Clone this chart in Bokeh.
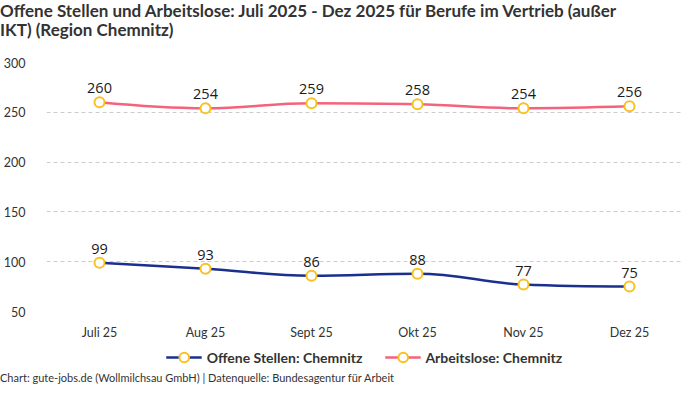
from bokeh.plotting import figure
from bokeh.models import (Legend, LegendItem, FixedTicker, ColumnDataSource, Div)
from bokeh.layouts import column
from bokeh.embed import file_html
from bokeh.resources import INLINE
from bokeh.core.properties import value

months = ["Juli 25", "Aug 25", "Sept 25", "Okt 25", "Nov 25", "Dez 25"]
offene = [99, 93, 86, 88, 77, 75]
arbeitslose = [260, 254, 259, 258, 254, 256]
y_ticks = [50, 100, 150, 200, 250, 300]

title_lines = ["Offene Stellen und Arbeitslose: Juli 2025 - Dez 2025 für Berufe im Vertrieb (außer",
               "IKT) (Region Chemnitz)"]
footer = "Chart: gute-jobs.de (Wollmilchsau GmbH) | Datenquelle: Bundesagentur für Arbeit"
names = ["Offene Stellen: Chemnitz", "Arbeitslose: Chemnitz"]

BLUE = "#1b2f8e"
PINK = "#f4637c"
MARK = "#f9c11d"
FONT = "Lato"

xs = list(range(len(months)))

title_div = Div(text="<br>".join(title_lines), width=684, height=54, margin=(0, 0, 0, 0),
                styles={"font-family": "Lato, sans-serif", "font-weight": "bold",
                        "font-size": "17px", "line-height": "19px", "color": "#333333",
                        "padding-top": "1px", "white-space": "nowrap"})

p = figure(width=684, height=288, output_backend="svg", toolbar_location=None,
           x_range=(-0.5, len(months) - 0.5), y_range=(50, 300),
           min_border_left=45, min_border_right=2, min_border_top=8, min_border_bottom=24,
           margin=(0, 0, 0, 0))
p.outline_line_color = None
p.background_fill_color = "white"
p.border_fill_color = "white"

p.xgrid.visible = False
p.ygrid.grid_line_color = "#cccccc"
p.ygrid.grid_line_dash = "4 3"
p.ygrid.grid_line_width = 1

p.yaxis.ticker = FixedTicker(ticks=y_ticks)
p.xaxis.ticker = FixedTicker(ticks=xs)
p.xaxis.major_label_overrides = {i: m for i, m in enumerate(months)}
for ax in (p.xaxis, p.yaxis):
    ax.axis_line_color = None
    ax.major_tick_line_color = None
    ax.minor_tick_line_color = None
    ax.major_label_text_font = FONT
    ax.major_label_text_font_size = "12.5px"
    ax.major_label_text_color = "#333333"
p.yaxis.major_label_standoff = 15
p.xaxis.major_label_standoff = 7


def spline_controls(x, y, smoothing=1.5):
    n = len(x)
    lefts, rights = [None] * n, [None] * n
    for i in range(n):
        if i == 0 or i == n - 1:
            lefts[i] = (x[i], y[i])
            rights[i] = (x[i], y[i])
            continue
        lx = (smoothing * x[i] + x[i - 1]) / (smoothing + 1)
        ly = (smoothing * y[i] + y[i - 1]) / (smoothing + 1)
        rx = (smoothing * x[i] + x[i + 1]) / (smoothing + 1)
        ry = (smoothing * y[i] + y[i + 1]) / (smoothing + 1)
        corr = ((ry - ly) * (rx - x[i])) / (rx - lx) + y[i] - ry
        ly += corr
        ry += corr
        py, ny = y[i - 1], y[i + 1]
        if ly > py and ly > y[i]:
            ly = max(py, y[i]); ry = 2 * y[i] - ly
        elif ly < py and ly < y[i]:
            ly = min(py, y[i]); ry = 2 * y[i] - ly
        if ry > ny and ry > y[i]:
            ry = max(ny, y[i]); ly = 2 * y[i] - ry
        elif ry < ny and ry < y[i]:
            ry = min(ny, y[i]); ly = 2 * y[i] - ry
        lefts[i] = (lx, ly)
        rights[i] = (rx, ry)
    seg = dict(x0=[], y0=[], x1=[], y1=[], cx0=[], cy0=[], cx1=[], cy1=[])
    for i in range(n - 1):
        seg["x0"].append(x[i]); seg["y0"].append(y[i])
        seg["x1"].append(x[i + 1]); seg["y1"].append(y[i + 1])
        seg["cx0"].append(rights[i][0]); seg["cy0"].append(rights[i][1])
        seg["cx1"].append(lefts[i + 1][0]); seg["cy1"].append(lefts[i + 1][1])
    return seg


# separate small figure that only holds the legend (legend glyphs are proxies)
lf = figure(width=684, height=30, output_backend="svg", toolbar_location=None,
            x_range=(0, 1), y_range=(0, 1), x_axis_location=None, y_axis_location=None,
            min_border=0, margin=(0, 0, 0, 0))
lf.outline_line_color = None
lf.grid.visible = False

items = []
for vals, col, name in ((offene, BLUE, names[0]), (arbeitslose, PINK, names[1])):
    seg = ColumnDataSource(spline_controls(xs, vals))
    p.bezier(x0="x0", y0="y0", x1="x1", y1="y1", cx0="cx0", cy0="cy0", cx1="cx1", cy1="cy1",
             source=seg, line_color=col, line_width=2.5)
    src = ColumnDataSource(dict(x=xs, y=vals, t=[str(v) for v in vals]))
    p.scatter("x", "y", source=src, size=10, marker="circle", fill_color="white",
              line_color=MARK, line_width=2)
    p.text("x", "y", text="t", source=src, text_align="center", text_baseline="bottom",
           y_offset=-9, text_font=value("Open Sans"), text_font_size="14.5px",
           text_color="#1a1a1a")
    pl = lf.line(x=[float("nan")], y=[float("nan")], line_color=col, line_width=2.5)
    ps = lf.scatter(x=[float("nan")], y=[float("nan")], size=10, marker="circle",
                    fill_color="white", line_color=MARK, line_width=2)
    items.append(LegendItem(label=name, renderers=[pl, ps]))

legend = Legend(items=items, orientation="horizontal", location="center",
                padding=0, margin=0, spacing=22, glyph_width=36, glyph_height=24,
                label_standoff=5, border_line_color=None, background_fill_alpha=0,
                label_text_font=FONT, label_text_font_style="bold",
                label_text_font_size="14px", label_text_color="#333333",
                label_height=20)
lf.add_layout(legend, "center")

footer_div = Div(text=footer, width=684, height=12, margin=(0, 0, 0, 0),
                 styles={"font-family": "Lato, sans-serif", "font-size": "11px",
                         "line-height": "12px", "color": "#333333", "white-space": "nowrap"})

layout = column(title_div, p, lf, footer_div, spacing=0, margin=(0, 0, 0, 0))
open("out.html", "w").write(file_html(layout, INLINE))
